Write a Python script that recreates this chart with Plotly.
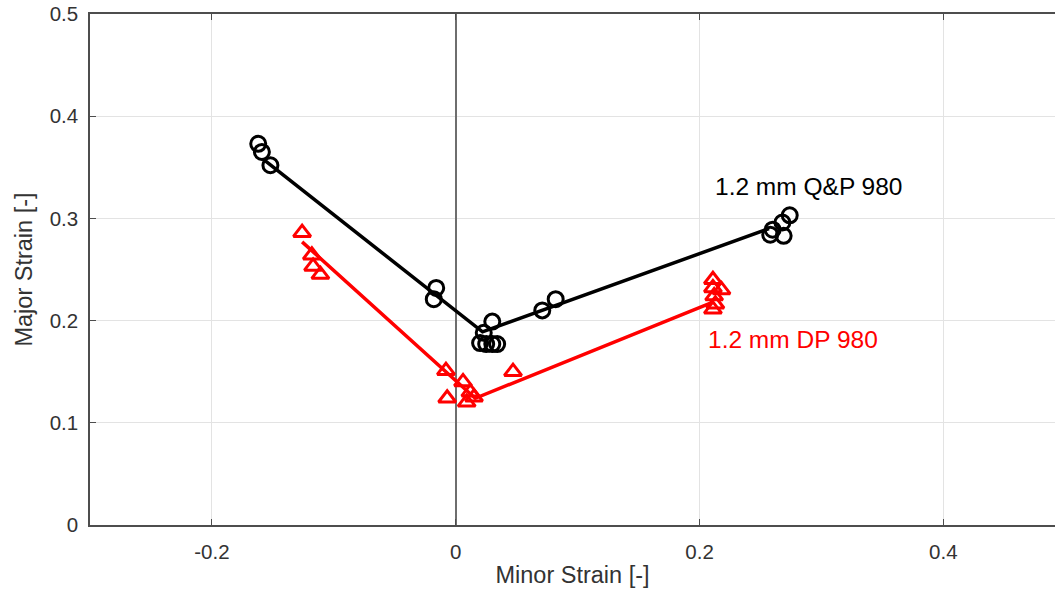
import plotly.graph_objects as go

# Q&P 980 measured points
qp_x = [-0.162, -0.159, -0.152, -0.016, -0.018, 0.030, 0.023, 0.020, 0.025, 0.030, 0.034,
        0.071, 0.082, 0.258, 0.260, 0.269, 0.268, 0.274]
qp_y = [0.373, 0.365, 0.352, 0.232, 0.221, 0.199, 0.188, 0.178, 0.177, 0.177, 0.177,
        0.210, 0.221, 0.284, 0.289, 0.283, 0.296, 0.303]
# Q&P fitted line
qp_fit_x = [-0.158, 0.022, 0.257]
qp_fit_y = [0.358, 0.189, 0.290]

# DP 980 measured points
dp_x = [-0.126, -0.118, -0.117, -0.111, -0.008, -0.007, 0.006, 0.009, 0.012, 0.015, 0.047,
        0.211, 0.211, 0.218, 0.212, 0.213, 0.211]
dp_y = [0.286, 0.264, 0.253, 0.245, 0.151, 0.124, 0.140, 0.120, 0.130, 0.125, 0.150,
        0.240, 0.232, 0.230, 0.224, 0.216, 0.211]
# DP fitted line
dp_fit_x = [-0.126, 0.016, 0.211]
dp_fit_y = [0.277, 0.124, 0.218]

x_ticks = [-0.2, 0, 0.2, 0.4]
x_ticklabels = ["-0.2", "0", "0.2", "0.4"]
y_ticks = [0, 0.1, 0.2, 0.3, 0.4, 0.5]
y_ticklabels = ["0", "0.1", "0.2", "0.3", "0.4", "0.5"]

FONT = "Liberation Sans, Arial, sans-serif"

fig = go.Figure()
fig.add_trace(go.Scatter(x=qp_fit_x, y=qp_fit_y, mode="lines",
                         line=dict(color="black", width=3.5), showlegend=False))
fig.add_trace(go.Scatter(x=qp_x, y=qp_y, mode="markers",
                         marker=dict(symbol="circle-open", size=15, color="black",
                                     line=dict(width=3)), showlegend=False))
fig.add_trace(go.Scatter(x=dp_fit_x, y=dp_fit_y, mode="lines",
                         line=dict(color="red", width=3.5), showlegend=False))
fig.add_trace(go.Scatter(x=dp_x, y=dp_y, mode="markers",
                         marker=dict(symbol="triangle-up-open", size=15, color="red",
                                     line=dict(width=3)), showlegend=False))

fig.add_annotation(x=0.211, y=0.331, text="1.2 mm Q&P 980", showarrow=False,
                   xanchor="left", yanchor="middle",
                   font=dict(family=FONT, size=24.5, color="black"))
fig.add_annotation(x=0.205, y=0.182, text="1.2 mm DP 980", showarrow=False,
                   xanchor="left", yanchor="middle",
                   font=dict(family=FONT, size=24.5, color="red"))

fig.update_layout(
    width=1055, height=597,
    margin=dict(l=90, r=0, t=14, b=72),
    paper_bgcolor="white", plot_bgcolor="white",
    font=dict(family=FONT, size=20, color="#262626"),
    xaxis=dict(range=[-0.3, 0.4916], tickvals=x_ticks, ticktext=x_ticklabels,
               showgrid=True, gridcolor="#e3e3e3", gridwidth=1,
               zeroline=True, zerolinecolor="#6e6e6e", zerolinewidth=1.5,
               showline=True, linecolor="#4d4d4d", linewidth=1.5, mirror="ticks",
               ticks="inside", ticklen=6, tickcolor="#4d4d4d",
               ticklabelstandoff=8,
               tickfont=dict(size=20.5, color="#333333"),
               title=dict(text="Minor Strain [-]", font=dict(size=23.5, color="#333333"),
                          standoff=4)),
    yaxis=dict(range=[0, 0.5], tickvals=y_ticks, ticktext=y_ticklabels,
               showgrid=True, gridcolor="#e3e3e3", gridwidth=1, zeroline=False,
               showline=True, linecolor="#4d4d4d", linewidth=1.5, mirror=False,
               ticks="inside", ticklen=6, tickcolor="#4d4d4d",
               ticklabelstandoff=6,
               tickfont=dict(size=20.5, color="#333333"),
               title=dict(text="Major Strain [-]", font=dict(size=23.5, color="#333333"),
                          standoff=10)),
)

fig.write_html("out.html")
